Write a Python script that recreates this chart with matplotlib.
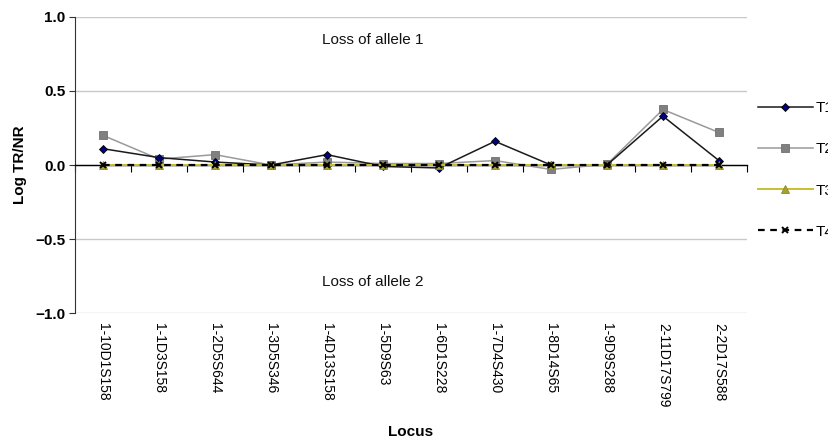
import matplotlib
matplotlib.use("Agg")
import matplotlib.pyplot as plt
from matplotlib.ticker import FixedLocator, NullFormatter

plt.rcParams['font.family'] = ['Liberation Sans', 'DejaVu Sans']

loci = ['1-10D1S158', '1-1D3S158', '1-2D5S644', '1-3D5S346', '1-4D13S158', '1-5D9S63',
        '1-6D1S228', '1-7D4S430', '1-8D14S65', '1-9D9S288', '2-11D17S799', '2-2D17S588']
t1 = [0.11, 0.05, 0.02, 0.0, 0.07, -0.01, -0.02, 0.16, 0.0, 0.0, 0.33, 0.03]
t2 = [0.20, 0.04, 0.07, 0.0, 0.02, 0.01, 0.01, 0.03, -0.03, 0.005, 0.375, 0.22]
t3 = [0.0] * 12
t4 = [0.0] * 12
series_names = ['T1', 'T2', 'T3', 'T4']

x = list(range(len(loci)))

fig = plt.figure(figsize=(8.29, 4.41), dpi=100)
ax = fig.add_axes([0.0905, 0.2902, 0.8105, 0.6713])

ax.plot(x, t1, color='#1a1a1a', lw=1.1, marker='D', ms=4.5, mfc='#000080', mec='#000000',
        mew=0.6, label=series_names[0], zorder=4)
ax.plot(x, t2, color='#9a9a9a', lw=1.1, marker='s', ms=5.5, mfc='#808080', mec='#707070',
        mew=0.6, label=series_names[1], zorder=3)
ax.plot(x, t3, color='#c8c030', lw=1.4, marker='^', ms=5.5, mfc='#a8a030', mec='#8a8a20',
        mew=0.6, label=series_names[2], zorder=5)
ax.plot(x, t4, color='#000000', lw=1.6, ls=(0, (3, 2.5)), marker='x', ms=5, mec='#000000',
        mew=1.4, label=series_names[3], zorder=6)

ax.set_xlim(-0.5, len(loci) - 0.5)
ax.set_ylim(-1.0, 1.0)
ax.set_yticks([-1.0, -0.5, 0.0, 0.5, 1.0])
ax.set_yticklabels(['\u22121.0', '\u22120.5', '0.0', '0.5', '1.0'])
ax.yaxis.grid(True, color='#c8c8c8', lw=1.0)
ax.set_axisbelow(True)
ax.tick_params(axis='y', direction='out', length=4, width=0.8, color='#333333',
               labelsize=11, pad=3)
for lab in ax.get_yticklabels():
    lab.set_fontweight('bold')

# zero axis with ticks between categories
ax.spines['bottom'].set_position(('data', 0))
ax.spines['bottom'].set_color('#000000')
ax.spines['bottom'].set_linewidth(1.0)
ax.spines['top'].set_visible(False)
ax.spines['right'].set_visible(False)
ax.spines['left'].set_color('#333333')
ax.xaxis.set_major_locator(FixedLocator([i - 0.5 for i in range(len(loci) + 1)]))
ax.xaxis.set_major_formatter(NullFormatter())
ax.tick_params(axis='x', direction='out', length=5, width=0.8, color='#000000')

# category labels along the bottom
sec = ax.secondary_xaxis('bottom')
sec.set_xticks(x)
sec.set_xticklabels(loci, rotation=270, fontsize=10)
sec.tick_params(length=0, pad=7)
for sp in sec.spines.values():
    sp.set_visible(False)
sec.set_xlabel('Locus', fontsize=11, fontweight='bold', labelpad=13)

ax.set_ylabel('Log TR/NR', fontsize=11, fontweight='bold', labelpad=6)

ax.text(4.82, 0.845, 'Loss of allele 1', ha='center', va='center', fontsize=11, color='#111111')
ax.text(4.82, -0.79, 'Loss of allele 2', ha='center', va='center', fontsize=11, color='#111111')

ax.legend(loc='center left', bbox_to_anchor=(0.914, 0.6145), bbox_transform=fig.transFigure,
          frameon=False, handlelength=3.6, labelspacing=1.78, fontsize=11, handletextpad=0.2,
          borderpad=0, borderaxespad=0)

fig.savefig('out.png', dpi=100)
